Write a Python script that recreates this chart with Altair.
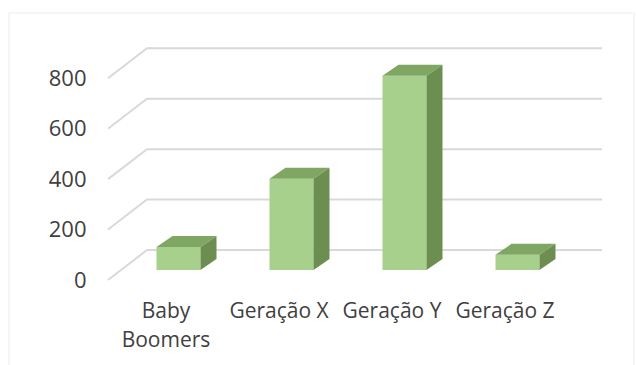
import json
import altair as alt
import pandas as pd

# ---- data -------------------------------------------------------------
categories = ["Baby Boomers", "Geração X", "Geração Y", "Geração Z"]
values = [91, 362, 770, 60]
y_ticks = [0, 200, 400, 600, 800]
label_lines = [["Baby", "Boomers"], ["Geração X"], ["Geração Y"], ["Geração Z"]]

# ---- 3-D layout, in pixels ---------------------------------------------
LEFT, TOP = 108, 48          # plot origin inside the page
W, H = 494, 232              # plot area
Y_MAX = 920
STEP = 113                   # distance between categories
FIRST = 57.5                 # first category on the front edge of the floor
FLOOR_DX, FLOOR_DY = 39, 30  # floor depth (front edge -> back wall)
BAR_DX, BAR_DY = 13, 10      # bars stand a little behind the front edge
BAR_W = 44
SIDE_DX, SIDE_DY = 16, 11    # bar depth

ky = H / Y_MAX
x_lo = -FIRST / STEP
x_hi = x_lo + W / STEP


def ux(px):
    return px / STEP


def uy(px):
    return px / ky


# ---- tables built from the arrays --------------------------------------
grid_rows = []
for t in y_ticks:
    grid_rows += [
        {"tick": t, "o": 0, "x": x_lo, "y": t},
        {"tick": t, "o": 1, "x": x_lo + ux(FLOOR_DX), "y": t + uy(FLOOR_DY)},
        {"tick": t, "o": 2, "x": x_hi, "y": t + uy(FLOOR_DY)},
    ]
grid = pd.DataFrame(grid_rows)

front_rows, top_rows, side_rows = [], [], []
for i, (c, v) in enumerate(zip(categories, values)):
    x0 = i + ux(BAR_DX) - ux(BAR_W / 2)
    x1 = i + ux(BAR_DX) + ux(BAR_W / 2)
    base = uy(BAR_DY)
    front_rows.append({"cat": c, "x0": x0, "x1": x1, "y0": base, "y1": base + v})
    top_rows += [
        {"cat": c, "y": base + v, "xa": x0, "xb": x1},
        {"cat": c, "y": base + v + uy(SIDE_DY), "xa": x0 + ux(SIDE_DX), "xb": x1 + ux(SIDE_DX)},
    ]
    side_rows += [
        {"cat": c, "x": x1, "ya": base, "yb": base + v},
        {"cat": c, "x": x1 + ux(SIDE_DX), "ya": base + uy(SIDE_DY), "yb": base + v + uy(SIDE_DY)},
    ]
front = pd.DataFrame(front_rows)
top = pd.DataFrame(top_rows)
side = pd.DataFrame(side_rows)

FONT = "Open Sans"
TEXT = "#404040"

xscale = alt.Scale(domain=[x_lo, x_hi], nice=False, zero=False)
yscale = alt.Scale(domain=[0, Y_MAX], nice=False, zero=False)

label_expr = json.dumps(label_lines, ensure_ascii=False) + "[datum.value]"

x_axis = alt.Axis(
    values=list(range(len(categories))),
    labelExpr=label_expr,
    domain=False, ticks=False, grid=False,
    labelPadding=20, labelFontSize=21, labelFont=FONT, labelColor=TEXT,
    labelLineHeight=29, labelBaseline="top", title=None,
)
y_axis = alt.Axis(
    values=y_ticks, domain=False, ticks=False, grid=False,
    labelPadding=22, labelFontSize=22, labelFont=FONT, labelColor=TEXT,
    title=None,
)

gridlines = alt.Chart(grid).mark_line(color="#d9d9d9", strokeWidth=2).encode(
    x=alt.X("x:Q", scale=xscale, axis=x_axis),
    y=alt.Y("y:Q", scale=yscale, axis=y_axis),
    detail="tick:N",
    order="o:Q",
)

front_face = alt.Chart(front).mark_rect(color="#A8D08D").encode(
    x=alt.X("x0:Q", scale=xscale), x2="x1:Q",
    y=alt.Y("y0:Q", scale=yscale), y2="y1:Q",
)

top_face = alt.Chart(top).mark_area(orient="horizontal", color="#80A663").encode(
    y=alt.Y("y:Q", scale=yscale), x=alt.X("xa:Q", scale=xscale), x2="xb:Q",
    detail="cat:N",
)

side_face = alt.Chart(side).mark_area(orient="vertical", color="#6C8F51").encode(
    x=alt.X("x:Q", scale=xscale), y=alt.Y("ya:Q", scale=yscale), y2="yb:Q",
    detail="cat:N",
)

frame = alt.Chart(pd.DataFrame({"f": [0]})).mark_rect(
    fill=None, stroke="#ececec", strokeWidth=1
).encode(
    x=alt.value(9 - LEFT), x2=alt.value(634 - LEFT),
    y=alt.value(13 - TOP), y2=alt.value(370 - TOP),
)

chart = (
    alt.layer(frame, gridlines, front_face, top_face, side_face)
    .properties(
        width=W, height=H,
        autosize=alt.AutoSizeParams(type="none"),
        padding={"left": LEFT, "top": TOP, "right": 636 - LEFT - W, "bottom": 365 - TOP - H},
        background="white",
    )
    .configure_view(stroke=None)
)

chart.save("out.html", embed_options={"renderer": "svg", "actions": False})
